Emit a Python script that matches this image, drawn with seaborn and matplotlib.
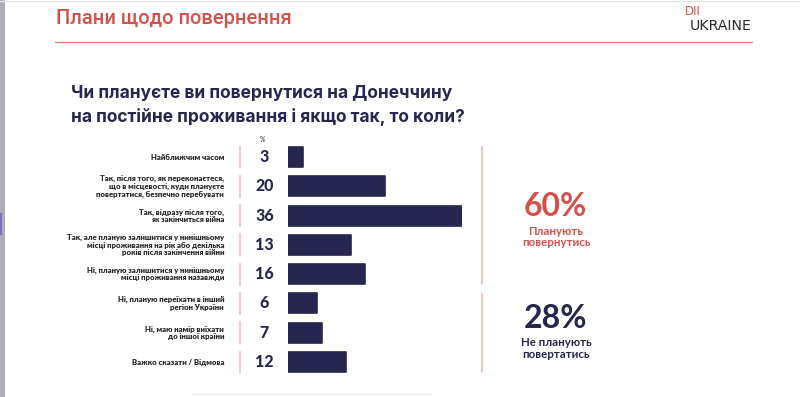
import matplotlib
matplotlib.use("Agg")
import matplotlib.pyplot as plt
import matplotlib.transforms as mtransforms
import seaborn as sns
import pandas as pd

# ---- data ----
categories = [
    "Найближчим часом",
    "Так, після того, як переконаєтеся,\nщо в місцевості, куди плануєте\nповертатися, безпечно перебувати",
    "Так, відразу після того,\nяк закінчиться війна",
    "Так, але планую залишитися у нинішньому\nмісці проживання на рік або декілька\nроків після закінчення війни",
    "Ні, планую залишитися у нинішньому\nмісці проживання назавжди",
    "Ні, планую переїхати в інший\nрегіон України",
    "Ні, маю намір виїхати\nдо іншої країни",
    "Важко сказати / Відмова",
]
values = [3, 20, 36, 13, 16, 6, 7, 12]
summary_values = ["60%", "28%"]
summary_labels = ["Планують\nповернутись", "Не планують\nповертатись"]
page_title = "Плани щодо повернення"
question = "Чи плануєте ви повернутися на Донеччину\nна постійне проживання і якщо так, то коли?"

NAVY = "#27264f"
RED = "#d4504c"
PINK = "#f0c2c2"
LABEL = "#2a2a2a"

sns.set_theme(style="white")
plt.rcParams["font.family"] = ["Lato", "DejaVu Sans"]

W, H = 800, 397
fig = plt.figure(figsize=(W / 100, H / 100), dpi=100)
fig.patch.set_facecolor("white")

def fx(px):
    return px / W

def fy(py):
    return 1 - py / H

# bar axes: x 288..462 px maps 0..36 ; rows centered 157..362 px
y0, y1 = 157, 362
step = (y1 - y0) / 7
top = y0 - step / 2
bot = y1 + step / 2
ax = fig.add_axes([fx(288), fy(bot), fx(462) - fx(288), (bot - top) / H])
df = pd.DataFrame({"cat": categories, "val": values})
sns.barplot(data=df, y="cat", x="val", orient="h", color=NAVY, width=0.68,
            saturation=1, ax=ax)
for p in ax.patches:
    p.set_edgecolor(NAVY)
    p.set_linewidth(1.2)
    p.set_joinstyle("round")
ax.set_xlim(0, 36)
ax.set_ylim(len(categories) - 0.5, -0.5)
ax.axis("off")

trans = mtransforms.blended_transform_factory(fig.transFigure, ax.transData)
for i, (c, v) in enumerate(zip(categories, values)):
    ax.text(fx(224), i, c, transform=trans, ha="right", va="center",
            fontsize=5.6, fontweight=800, color=LABEL, linespacing=1.05)
    ax.text(fx(264.5), i, str(v), transform=trans, ha="center", va="center",
            fontsize=11.5, fontweight=900, color=NAVY)
    ax.plot([fx(240), fx(240)], [i - 0.39, i + 0.39], transform=trans,
            color=PINK, lw=1.2, clip_on=False, solid_capstyle="butt")

# "%" header
fig.text(fx(263), fy(139), "%", ha="center", va="center", fontsize=5,
         color=LABEL)

# right pink group lines
fig.add_artist(plt.Line2D([fx(482), fx(482)], [fy(147), fy(284)], color=PINK, lw=1.4))
fig.add_artist(plt.Line2D([fx(482), fx(482)], [fy(294), fy(372)], color=PINK, lw=1.4))

# summaries
fig.text(fx(555.5), fy(206), summary_values[0], ha="center", va="center",
         fontsize=23, fontweight="bold", color=RED)
fig.text(fx(556), fy(237), summary_labels[0], ha="center", va="center",
         fontsize=8.3, fontweight="bold", color=RED, linespacing=1.0)
fig.text(fx(555.5), fy(318), summary_values[1], ha="center", va="center",
         fontsize=23, fontweight="bold", color=NAVY)
fig.text(fx(556), fy(348.5), summary_labels[1], ha="center", va="center",
         fontsize=8.3, fontweight="bold", color=NAVY, linespacing=1.0)

# page header
fig.text(fx(56), fy(19), page_title, ha="left", va="center", fontsize=14.5,
         color=RED, family=["Roboto", "DejaVu Sans"], fontweight="medium")
fig.add_artist(plt.Line2D([fx(55), fx(752)], [fy(41.7), fy(41.7)], color="#e07a78", lw=0.9))
fig.text(fx(685), fy(15), "DII", ha="left", va="baseline", fontsize=8.5,
         color=RED, family=["DejaVu Sans"])
fig.text(fx(752), fy(30), "UKRAINE", ha="right", va="baseline", fontsize=10.2,
         color="#2b2b2b", family=["DejaVu Sans"])

# question
fig.text(fx(71), fy(105.5), question, ha="left", va="center", fontsize=12.5,
         fontweight="bold", color=NAVY, linespacing=1.45,
         family=["Inter", "DejaVu Sans"])

# frame decorations (left gray strip, top rule, bottom trace)
fig.add_artist(plt.Rectangle((0, 0), fx(5), 1, color="#b2abb8", lw=0))
fig.add_artist(plt.Rectangle((0, fy(235)), fx(2), (235 - 213) / H, color="#7a6fc0", lw=0))
fig.add_artist(plt.Line2D([0, 1], [fy(1), fy(1)], color="#e6e6e6", lw=1))
fig.add_artist(plt.Line2D([fx(193), fx(430)], [fy(394), fy(394)], color="#f0f0f0", lw=1))

fig.savefig("out.png", dpi=100, facecolor="white")
